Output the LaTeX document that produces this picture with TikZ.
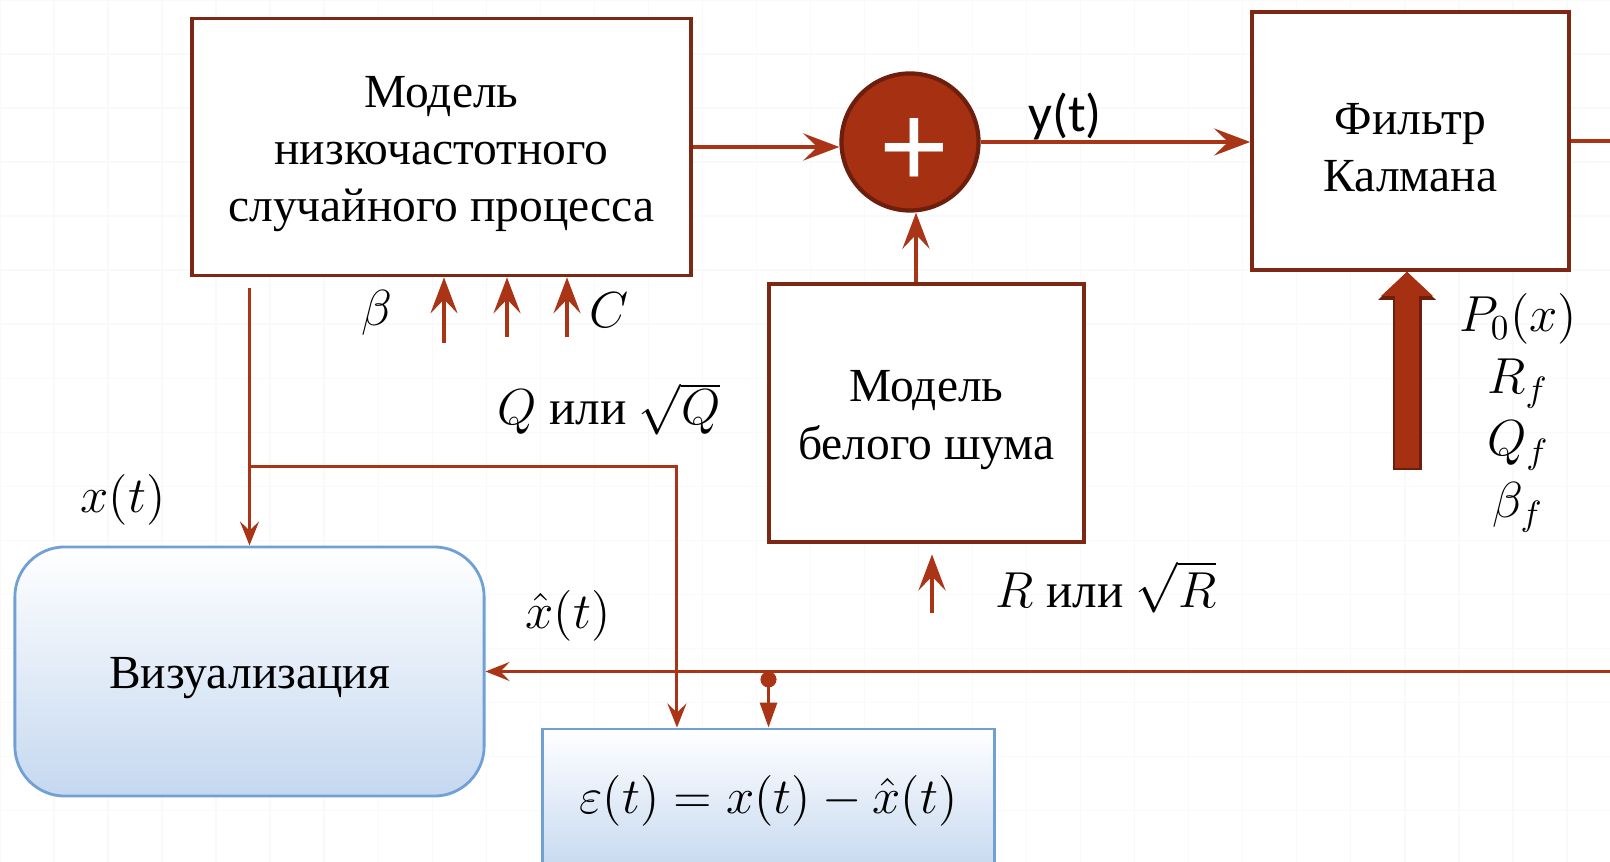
\documentclass[tikz,border=0pt]{standalone}
\usepackage{fontspec}
\setmainfont{Liberation Serif}
\newfontfamily\calibrifont{Carlito}
\newfontfamily\plusfont{Liberation Sans}
\usetikzlibrary{arrows.meta, positioning}
\definecolor{boxred}{RGB}{125, 40, 20}
\definecolor{linkred}{RGB}{170, 52, 22}
\definecolor{sumfill}{RGB}{165, 48, 18}
\definecolor{sumdraw}{RGB}{110, 30, 12}
\definecolor{vizblue}{RGB}{197, 216, 240}
\definecolor{vizdraw}{RGB}{112, 160, 212}
\newcommand{\topgap}{\rule{0pt}{12.8pt}}
\begin{document}
\begin{tikzpicture}[
    x=0.01cm, y=-0.01cm,
    block/.style={rectangle, draw=boxred, line width=1pt, fill=white,
                  align=center, font=\fontsize{13.5}{16.3}\selectfont},
    sumnode/.style={circle, draw=sumdraw, line width=1.2pt, fill=sumfill,
                    minimum size=1.37cm, inner sep=0pt},
    plusmark/.style={text=white, inner sep=0pt, xshift=0.045cm, yshift=-0.11cm,
                     font=\fontsize{34}{34}\plusfont},
    vizbox/.style={rectangle, draw=vizdraw, line width=0.8pt, top color=white,
                   bottom color=vizblue, align=center,
                   font=\fontsize{13.5}{16.3}\selectfont},
    flow/.style={draw=linkred, line width=1.3pt,
                 -{Stealth[length=0.36cm, width=0.27cm, inset=0.14cm]}},
    thinflow/.style={draw=linkred, line width=0.85pt,
                 -{Stealth[length=0.24cm, width=0.19cm, inset=0.09cm]}},
    tapflow/.style={draw=linkred, line width=0.85pt,
                 {Circle[length=0.16cm]}-{Triangle[length=0.25cm, width=0.17cm]}},
    paramarrow/.style={draw=sumfill, line width=0.24cm,
                 -{Triangle[length=0.24cm, width=0.5cm]},
                 preaction={draw=sumdraw, line width=0.29cm, shorten <=-0.025cm,
                 -{Triangle[length=0.28cm, width=0.56cm]}}},
    lbl/.style={font=\fontsize{14}{17.6}\selectfont, inner sep=1pt},
    gridline/.style={draw=gray!5, line width=0.4pt}
  ]
    \useasboundingbox (0,0) rectangle (1610,862);
    \clip (0,0) rectangle (1610,862);
    \draw[gridline, step=0.54cm] (0,0) grid (1610,862);

    % Blocks
    \node[block, minimum width=4.99cm, minimum height=2.57cm] (lfm) at (441.5,147)
      {\topgap Модель\\низкочастотного\\случайного процесса};
    \node[sumnode, label={[plusmark]center:+}] (sum) at (910,142) {};
    \node[block, minimum width=3.17cm, minimum height=2.58cm] (kalman) at (1410.5,141)
      {\topgap Фильтр\\Калмана};
    \node[block, minimum width=3.15cm, minimum height=2.58cm] (noise) at (926.5,413)
      {\topgap Модель\\белого шума};
    \node[vizbox, rounded corners=0.5cm, minimum width=4.69cm, minimum height=2.49cm]
      (vis) at (249.5,671.5) {\topgap Визуализация};
    \node[vizbox, minimum width=4.51cm, minimum height=1.44cm] (err) at (768.5,801)
      {\fontsize{14}{17}\selectfont$\varepsilon(t) = x(t) - \hat{x}(t)$};

    % Free ends
    \coordinate (inb) at (444,343);
    \coordinate (inq) at (507,337);
    \coordinate (inc) at (567,337);
    \coordinate (inr) at (932,613);
    \coordinate (kin) at (1407,468);
    \coordinate (kout) at (1610,141);
    \coordinate (fback) at (1610,672);
    \coordinate (xbr) at (250,467);

    % Arrows
    \draw[flow] (lfm.east) -- (lfm.east -| sum.west);
    \draw[flow] (sum.east) -- (sum.east -| kalman.west);
    \draw[draw=linkred, line width=1.3pt] (kalman.east) -- (kalman.east -| kout);
    \draw[flow] ([xshift=0.06cm]sum.south |- noise.north) -- ([xshift=0.06cm]sum.south);
    \draw[flow, shorten >=3pt] (inr) -- (inr |- noise.south);
    \draw[flow] (inb) -- (inb |- lfm.south);
    \draw[flow] (inq) -- (inq |- lfm.south);
    \draw[flow] (inc) -- (inc |- lfm.south);
    \draw[paramarrow] (kin) -- (kin |- kalman.south);
    \draw[thinflow, shorten <=3pt] (vis.north |- lfm.south) -- (vis.north);
    \draw[thinflow] (xbr) -| ([xshift=-0.915cm]err.north);
    \draw[thinflow] (vis.east -| fback) -- (vis.east);
    \draw[tapflow] (err.north |- vis.east) -- (err.north);

    % Labels
    \node[lbl] (ylbl) at (1065,116) {\fontsize{15}{18}\calibrifont y(t)};
    \node[lbl] (blbl) at (377,313) {$\beta$};
    \node[lbl] (clbl) at (609,310) {$C$};
    \node[lbl] (qlbl) at (609,409) {$Q$ или $\sqrt{Q}$};
    \node[lbl] (rlbl) at (1106,587) {$R$ или $\sqrt{R}$};
    \node[lbl] (xlbl) at (123,500) {$x(t)$};
    \node[lbl] (xhlbl) at (568,616) {$\hat{x}(t)$};
    \node[lbl, align=center] (kparams) at (1518,413)
      {$P_0(x)$\\$R_f$\\$Q_f$\\$\beta_f$};
  \end{tikzpicture}
\end{document}
